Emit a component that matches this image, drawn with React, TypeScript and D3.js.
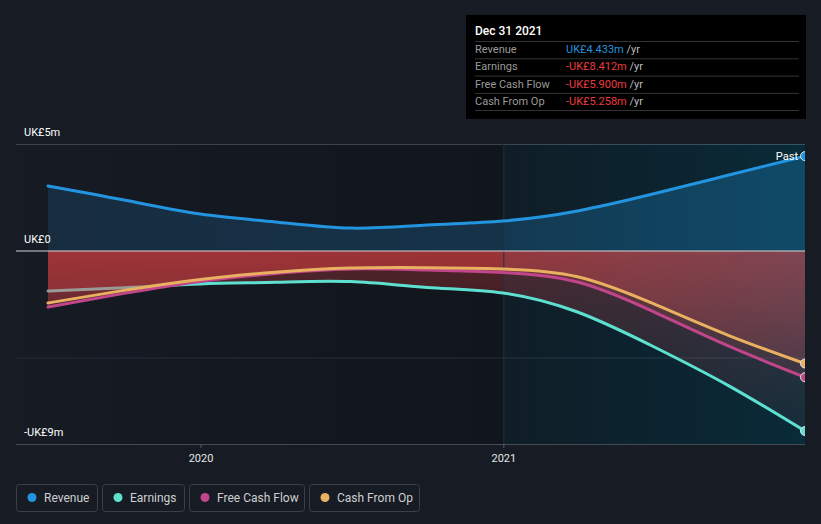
import React from 'react';
import * as d3 from 'd3';

// ---------- data ----------
const dates = ['2019-06-30', '2019-09-30', '2019-12-31', '2020-03-31', '2020-06-30', '2020-09-30', '2020-12-31', '2021-03-31', '2021-06-30', '2021-09-30', '2021-12-31'];
const revenue = [3.04, 2.38, 1.73, 1.36, 1.07, 1.21, 1.4, 1.87, 2.66, 3.55, 4.433];
const earnings = [-1.87, -1.72, -1.54, -1.46, -1.43, -1.7, -1.96, -2.85, -4.45, -6.3, -8.412];
const freeCashFlow = [-2.62, -1.98, -1.42, -1.05, -0.84, -0.89, -1.0, -1.45, -2.82, -4.45, -5.9];
const cashFromOp = [-2.43, -1.84, -1.33, -0.99, -0.8, -0.78, -0.84, -1.2, -2.45, -3.95, -5.258];
const yTickValues = [5, 0, -9];
const yTickLabels = ['UK£5m', 'UK£0', '-UK£9m'];
const xTickDates = ['2020-01-01', '2021-01-01'];
const xTickLabels = ['2020', '2021'];
const pastStart = '2021-01-01';
const earningsGreyUntil = '2019-11-10';
const tooltipTitle = 'Dec 31 2021';
const tooltipLabels = ['Revenue', 'Earnings', 'Free Cash Flow', 'Cash From Op'];
const tooltipValues = ['UK£4.433m', '-UK£8.412m', '-UK£5.900m', '-UK£5.258m'];
const legendLabels = ['Revenue', 'Earnings', 'Free Cash Flow', 'Cash From Op'];

// ---------- style ----------
const W = 821;
const H = 524;
const COLORS = {
  revenue: '#2394df',
  earnings: '#5ee0d0',
  fcf: '#c0458a',
  cfo: '#e8b060',
};
const seriesColors = [COLORS.revenue, COLORS.earnings, COLORS.fcf, COLORS.cfo];
const FONT = 'Roboto, "Open Sans", sans-serif';

const plotLeft = 16;
const plotRight = 805;
const plotTop = 144;
const plotBottom = 444;

export default function App() {
  const parsed = dates.map((d) => new Date(d + 'T00:00:00'));
  const x = d3
    .scaleTime()
    .domain([parsed[0], parsed[parsed.length - 1]])
    .range([48, 805]);
  const y = d3.scaleLinear().domain([-9, 5]).range([443.6, 144]);

  const curve = d3.curveNatural;
  const mk = (vals: number[]) => vals.map((v, i) => ({ d: parsed[i], v }));
  const line = d3
    .line<{ d: Date; v: number }>()
    .x((p) => x(p.d))
    .y((p) => y(p.v))
    .curve(curve);
  const area = d3
    .area<{ d: Date; v: number }>()
    .x((p) => x(p.d))
    .y0(y(0))
    .y1((p) => y(p.v))
    .curve(curve);

  const rev = mk(revenue);
  const earn = mk(earnings);
  const fcf = mk(freeCashFlow);
  const cfo = mk(cashFromOp);

  const pastX = x(new Date(pastStart + 'T00:00:00'));
  const greyX = x(new Date(earningsGreyUntil + 'T00:00:00'));
  const last = parsed.length - 1;

  const legendWidths = [81, 82, 115, 110];
  let acc = 16;
  const legendX = legendWidths.map((w) => {
    const v = acc;
    acc += w + 5;
    return v;
  });

  return (
    <div style={{ position: 'fixed', left: 0, top: 0, width: W, height: H }}>
      <svg width={W} height={H} style={{ display: 'block', fontFamily: FONT }}>
        <defs>
          <linearGradient id="leftBg" x1="0" x2="1" y1="0" y2="0">
            <stop offset="0" stopColor="#161b24" />
            <stop offset="1" stopColor="#11151c" />
          </linearGradient>
          <linearGradient id="pastBg" gradientUnits="userSpaceOnUse" x1={pastX} x2={plotRight} y1="0" y2="0">
            <stop offset="0" stopColor="#10161d" />
            <stop offset="1" stopColor="#0a0f13" />
          </linearGradient>
          <linearGradient id="pastOverlay" gradientUnits="userSpaceOnUse" x1={pastX} x2={plotRight} y1="0" y2="0">
            <stop offset="0" stopColor="#05a8df" stopOpacity={0.05} />
            <stop offset="1" stopColor="#05a8df" stopOpacity={0.18} />
          </linearGradient>
          <linearGradient id="revFill" gradientUnits="userSpaceOnUse" x1="48" x2={plotRight} y1="0" y2="0">
            <stop offset="0" stopColor={COLORS.revenue} stopOpacity={0.15} />
            <stop offset="1" stopColor={COLORS.revenue} stopOpacity={0.29} />
          </linearGradient>
          <linearGradient id="negFill" gradientUnits="userSpaceOnUse" x1="0" x2="0" y1={y(0)} y2={y(-9)}>
            <stop offset="0" stopColor="#e64243" stopOpacity={0.3} />
            <stop offset="1" stopColor="#e64243" stopOpacity={0.05} />
          </linearGradient>
          <clipPath id="plotClip">
            <rect x={plotLeft} y={0} width={plotRight - plotLeft} height={plotBottom} />
          </clipPath>
          <clipPath id="greyClip">
            <rect x={0} y={0} width={greyX} height={H} />
          </clipPath>
          <clipPath id="tealClip">
            <rect x={greyX} y={0} width={plotRight - greyX} height={H} />
          </clipPath>
        </defs>

        <rect x={0} y={0} width={W} height={H} fill="#161b24" />
        <rect x={plotLeft} y={plotTop} width={pastX - plotLeft} height={plotBottom - plotTop} fill="url(#leftBg)" />
        <rect x={pastX} y={plotTop} width={plotRight - pastX} height={plotBottom - plotTop} fill="url(#pastBg)" />

        {/* gridlines */}
        <line x1={plotLeft} x2={plotRight} y1={y(-5)} y2={y(-5)} stroke="#262d37" strokeWidth={1} />
        <line x1={plotLeft} x2={plotRight} y1={plotTop + 0.5} y2={plotTop + 0.5} stroke="#3c434d" strokeWidth={1} />

        <g clipPath="url(#plotClip)">
          <path d={area(rev) || ''} fill="url(#revFill)" />
          <path d={area(earn) || ''} fill="url(#negFill)" />
          <path d={area(fcf) || ''} fill="url(#negFill)" />
          <path d={area(cfo) || ''} fill="url(#negFill)" />
        </g>

        <rect x={pastX} y={plotTop} width={plotRight - pastX} height={plotBottom - plotTop} fill="url(#pastOverlay)" />

        <line x1={pastX} x2={pastX} y1={plotTop} y2={plotBottom} stroke="#1d3340" strokeWidth={1} />
        <line x1={plotLeft} x2={plotRight} y1={y(0)} y2={y(0)} stroke="#d6d6d6" strokeWidth={1.2} />
        <line x1={plotLeft} x2={plotRight} y1={plotBottom + 0.5} y2={plotBottom + 0.5} stroke="#444b55" strokeWidth={1} />

        <g clipPath="url(#plotClip)" fill="none" strokeWidth={3} strokeLinecap="round">
          <path d={line(rev) || ''} stroke={COLORS.revenue} />
          <g clipPath="url(#greyClip)">
            <path d={line(earn) || ''} stroke="#9a9a98" />
          </g>
          <g clipPath="url(#tealClip)">
            <path d={line(earn) || ''} stroke={COLORS.earnings} />
          </g>
          <path d={line(fcf) || ''} stroke={COLORS.fcf} />
          <path d={line(cfo) || ''} stroke={COLORS.cfo} />
        </g>

        <g clipPath="url(#plotClip)">
          {[rev, earn, fcf, cfo].map((s, i) => (
            <circle
              key={i}
              cx={x(s[last].d)}
              cy={y(s[last].v)}
              r={4.5}
              fill={seriesColors[i]}
              stroke="#dfe6ea"
              strokeWidth={1}
            />
          ))}
        </g>

        <text x={798} y={160} fill="#ffffff" fontSize={11} textAnchor="end">
          Past
        </text>

        {/* y labels */}
        {yTickValues.map((v, i) => (
          <text key={i} x={24} y={y(v) - 8} fill="#ffffff" fontSize={11}>
            {yTickLabels[i]}
          </text>
        ))}

        {/* x ticks */}
        {xTickDates.map((d, i) => {
          const xx = x(new Date(d + 'T00:00:00'));
          return (
            <g key={i}>
              <line x1={xx} x2={xx} y1={plotBottom} y2={plotBottom + 4} stroke="#555c66" />
              <text x={xx} y={462} fill="#e6e6e6" fontSize={11} textAnchor="middle">
                {xTickLabels[i]}
              </text>
            </g>
          );
        })}

        {/* tooltip */}
        <rect x={466} y={15} width={340} height={104} fill="#000000" />
        <text x={475} y={35} fill="#ffffff" fontSize={12} fontWeight={500}>
          {tooltipTitle}
        </text>
        {tooltipLabels.map((lab, i) => {
          const rowTop = 41 + i * 17.3;
          return (
            <g key={i}>
              <line x1={475} x2={799} y1={rowTop + 0.5} y2={rowTop + 0.5} stroke="#333" />
              <text x={475} y={rowTop + 12} fill="#9a9a9a" fontSize={11}>
                {lab}
              </text>
              <text x={566} y={rowTop + 12} fontSize={11}>
                <tspan fill={i === 0 ? COLORS.revenue : '#ee3a3f'}>{tooltipValues[i]}</tspan>
                <tspan fill="#bdbdbd"> /yr</tspan>
              </text>
            </g>
          );
        })}
        <line x1={475} x2={799} y1={110.5} y2={110.5} stroke="#333" />

        {/* legend */}
        {legendLabels.map((lab, i) => (
          <g key={i} transform={`translate(${legendX[i]},484)`}>
            <rect x={0.5} y={0.5} width={legendWidths[i]} height={27} rx={3} fill="none" stroke="#3a404a" />
            <circle cx={16} cy={13.5} r={4.5} fill={seriesColors[i]} />
            <text x={28} y={17.5} fill="#cfcfcf" fontSize={12}>
              {lab}
            </text>
          </g>
        ))}
      </svg>
    </div>
  );
}
